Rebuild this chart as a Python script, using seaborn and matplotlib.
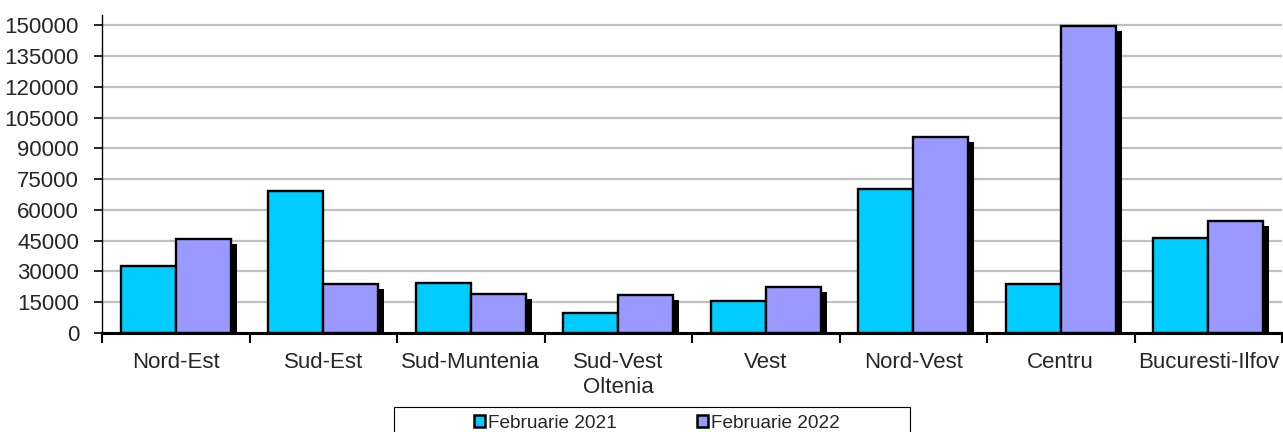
import numpy as np
import pandas as pd
import matplotlib
matplotlib.use("Agg")
import matplotlib.pyplot as plt
import matplotlib.patheffects as pe
from matplotlib.patches import Patch, Rectangle
import seaborn as sns

regions = ["Nord-Est", "Sud-Est", "Sud-Muntenia", "Sud-Vest\nOltenia", "Vest",
           "Nord-Vest", "Centru", "Bucuresti-Ilfov"]
feb2021 = [32600, 69000, 24500, 9600, 15700, 70000, 23900, 46300]
feb2022 = [46000, 23900, 19000, 18700, 22300, 95300, 149500, 54700]
series = ["Februarie 2021", "Februarie 2022"]
colors = ["#00CCFF", "#9999FF"]
yticks = list(range(0, 150001, 15000))

df = pd.DataFrame({
    "region": regions * 2,
    "value": feb2021 + feb2022,
    "series": [series[0]] * len(regions) + [series[1]] * len(regions),
})

sns.set_style("white")
plt.rcParams["font.family"] = ["Liberation Sans", "DejaVu Sans"]

W, H = 1283, 432
fig = plt.figure(figsize=(W / 100, H / 100), dpi=100)
ax = fig.add_axes([102 / W, 1 - 333 / H, 1180 / W, 318 / H])

sns.barplot(data=df, x="region", y="value", hue="series", order=regions,
            hue_order=series, palette=colors, width=0.745, gap=0,
            edgecolor="black", linewidth=1.7, saturation=1, ax=ax,
            legend=False, zorder=3)

# shadow on second series
for p in ax.containers[1].patches:
    p.set_path_effects([pe.SimplePatchShadow(offset=(4.3, -3.6),
                                             shadow_rgbFace="black", alpha=1),
                        pe.Normal()])

ax.set_xlim(-0.5, len(regions) - 0.5)
ax.set_ylim(0, 155000)
ax.set_yticks(yticks)
ax.set_yticklabels([str(v) for v in yticks])
ax.yaxis.grid(True, color="#c0c0c0", linewidth=1.6)
ax.xaxis.grid(False)
ax.set_axisbelow(True)

ax.set_xticks(range(len(regions)))
ax.set_xticklabels(regions, fontsize=16, linespacing=1.22)
ax.set_xticks(np.arange(-0.5, len(regions), 1), minor=True)
ax.tick_params(axis="x", which="major", length=0, pad=14)
ax.tick_params(axis="x", which="minor", length=7, width=1.5, direction="out",
               color="black", bottom=True)
ax.tick_params(axis="y", length=6, width=1.2, direction="out", color="black",
               labelsize=16, pad=10.5, left=True)

for s in ["top", "right"]:
    ax.spines[s].set_visible(False)
ax.spines["left"].set_color("black")
ax.spines["left"].set_linewidth(1.0)
ax.spines["bottom"].set_color("black")
ax.spines["bottom"].set_linewidth(2.2)
ax.spines["bottom"].set_zorder(5)
ax.set_xlabel("")
ax.set_ylabel("")

handles = [Patch(facecolor=c, edgecolor="black", linewidth=1.8) for c in colors]
fig.legend(handles, series, loc="center", bbox_to_anchor=(657 / W, 1 - 423 / H),
           ncol=2, frameon=False, fontsize=13.7, handlelength=0.6,
           handleheight=0.6, handletextpad=0.15, columnspacing=4.2,
           borderpad=0, borderaxespad=0)
fig.patches.append(Rectangle((394 / W, -0.05), 516 / W, 0.05 + 1 - 406.5 / H,
                             transform=fig.transFigure, fill=False,
                             edgecolor="black", linewidth=0.8))

fig.savefig("out.png", dpi=100)
